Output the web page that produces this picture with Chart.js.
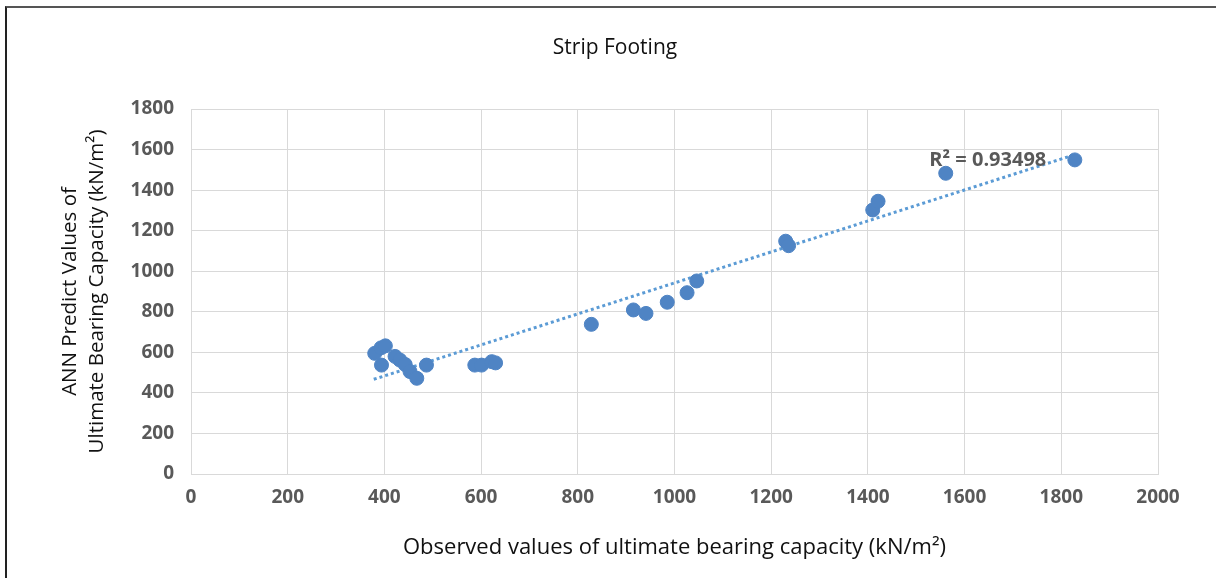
<!DOCTYPE html>
<html>
<head>
<meta charset="utf-8">
<script src="https://cdn.jsdelivr.net/npm/chart.js@4.4.1/dist/chart.umd.min.js"></script>
<style>
  html, body { margin: 0; padding: 0; background: #fff; }
  #wrap { position: relative; width: 1216px; height: 578px; }
  #frame { position: absolute; left: 5px; top: 6px; right: 0; bottom: 0;
           border-left: 2px solid #222; border-top: 2px solid #555; pointer-events: none; }
</style>
</head>
<body>
<div id="wrap">
  <canvas id="chStrip"></canvas>
  <div id="frame"></div>
</div>
<script>
// Strip footing: observed vs ANN predicted bearing capacity

const observed = [380, 393, 402, 394, 422, 432, 443, 453, 467, 487, 587, 601, 622, 630,
                  828, 915, 941, 985, 1026, 1046, 1230, 1236, 1410, 1421, 1561, 1828];
const predicted = [595, 622, 632, 537, 580, 562, 540, 505, 472, 537, 537, 537, 554, 548,
                   738, 809, 792, 847, 894, 952, 1148, 1126, 1302, 1345, 1483, 1549];

// dotted linear trendline, end points
const trendX = [378, 1828];
const trendY = [467, 1575];

const chartTitle = 'Strip Footing';
const r2Text = 'R\u00b2 = 0.93498';
const r2At = { x: 1648, y: 1545 };

const xTicks = [0, 200, 400, 600, 800, 1000, 1200, 1400, 1600, 1800, 2000];
const yTicks = [0, 200, 400, 600, 800, 1000, 1200, 1400, 1600, 1800];

const ptColor = '#4f84c4';
const gridColor = '#d9d9d9';
const tickColor = '#595959';

const points = observed.map((x, i) => ({ x: x, y: predicted[i] }));
const trend = trendX.map((x, i) => ({ x: x, y: trendY[i] }));

// chart title and R² label
const extraText = {
    id: 'extraText',
    afterDatasetsDraw(chart) {
        const ctx = chart.ctx;
        ctx.save();
        ctx.textAlign = 'center';
        ctx.textBaseline = 'middle';

        ctx.font = '21px "Open Sans"';
        ctx.fillStyle = '#111';
        ctx.fillText(chartTitle, 615, 48);

        const px = chart.scales.x.getPixelForValue(r2At.x);
        const py = chart.scales.y.getPixelForValue(r2At.y);
        ctx.font = 'bold 20px "Open Sans"';
        ctx.fillStyle = tickColor;
        ctx.fillText(r2Text, px, py);
        ctx.restore();
    }
};

Chart.defaults.font.family = '"Open Sans", sans-serif';

const plainNum = v => String(v);

new Chart(document.getElementById('chStrip').getContext('2d'), {
    type: 'scatter',
    data: {
        datasets: [
            {
                label: 'Strip footing',
                data: points,
                backgroundColor: ptColor,
                borderColor: ptColor,
                pointRadius: 7,
                pointHoverRadius: 7,
                order: 0
            },
            {
                label: 'Linear trend',
                type: 'line',
                data: trend,
                borderColor: '#5b9bd5',
                borderWidth: 3,
                borderDash: [3, 3],
                pointRadius: 0,
                fill: false,
                order: 1
            }
        ]
    },
    options: {
        responsive: true,
        maintainAspectRatio: false,
        animation: false,
        devicePixelRatio: 1,
        layout: { padding: { left: 0, right: 58, top: 109, bottom: 0 } },
        plugins: {
            legend: { display: false },
            tooltip: { enabled: false },
            title: { display: false }
        },
        scales: {
            x: {
                type: 'linear',
                min: 0, max: 2000,
                afterBuildTicks: s => { s.ticks = xTicks.map(v => ({ value: v })); },
                afterFit: s => { s.height = 104; },
                ticks: { color: tickColor, font: { size: 19, weight: 'bold' }, padding: 12, callback: plainNum },
                grid: { color: gridColor, drawTicks: false },
                border: { color: gridColor },
                title: {
                    display: true,
                    text: 'Observed values of ultimate bearing capacity (kN/m\u00b2)',
                    color: '#111',
                    font: { size: 22, lineHeight: 1.2 },
                    padding: { top: 0, bottom: 17 }
                }
            },
            y: {
                type: 'linear',
                min: 0, max: 1800,
                afterBuildTicks: s => { s.ticks = yTicks.map(v => ({ value: v })); },
                afterFit: s => { s.width = 191; },
                ticks: { color: tickColor, font: { size: 19, weight: 'bold' }, padding: 17, callback: plainNum },
                grid: { color: gridColor, drawTicks: false },
                border: { color: gridColor },
                title: {
                    display: true,
                    text: ['ANN Predict Values of', 'Ultimate Bearing Capacity (kN/m\u00b2)'],
                    color: '#111',
                    font: { size: 20.5, lineHeight: 1.3 },
                    padding: { top: 57, bottom: 0 }
                }
            }
        }
    },
    plugins: [extraText]
});
</script>
</body>
</html>
